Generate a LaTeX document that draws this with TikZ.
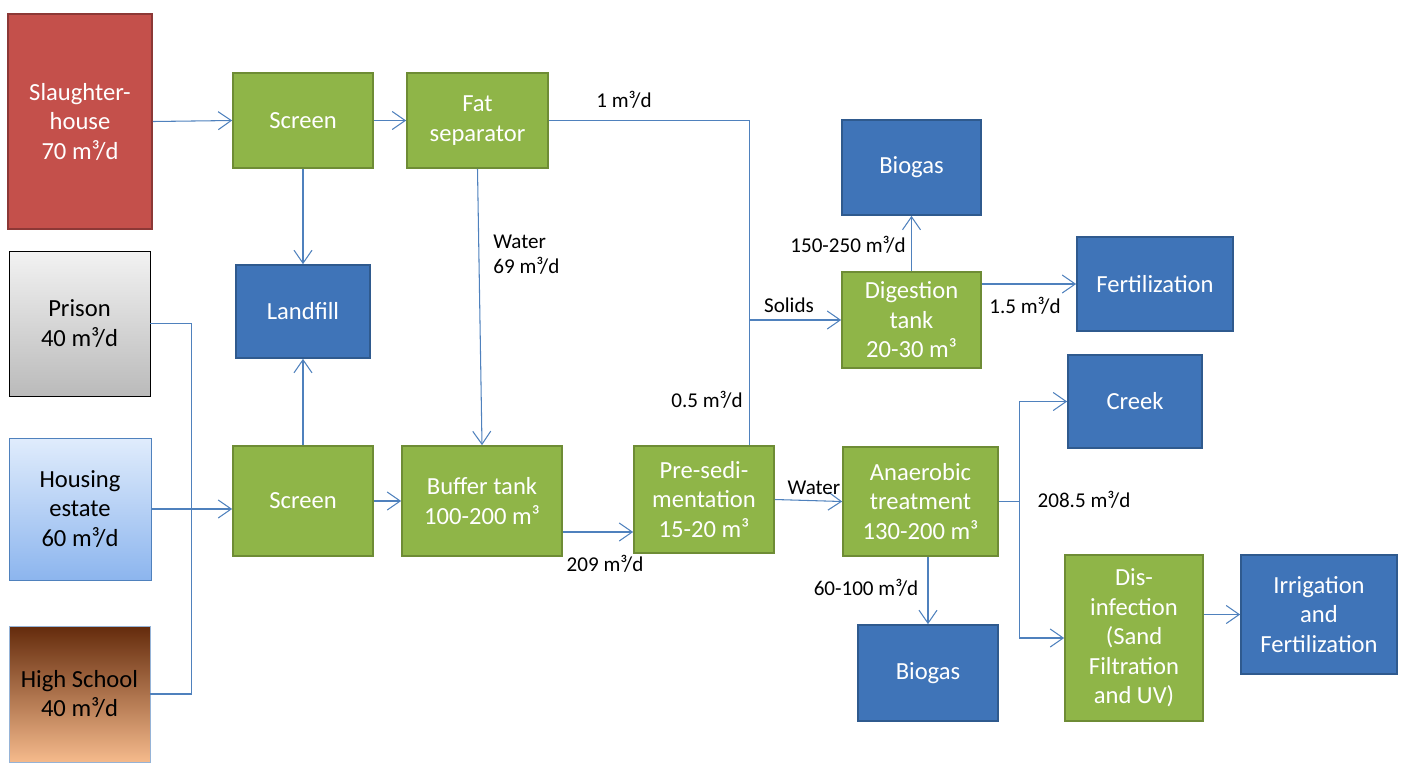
\documentclass[tikz,border=0pt]{standalone}
\usepackage{fontspec}
\setmainfont{Carlito}
\usepackage{tikz}
\usetikzlibrary{arrows.meta,calc}

\definecolor{boxred}{HTML}{C4504B}
\definecolor{boxredline}{HTML}{8C3836}
\definecolor{boxgreen}{HTML}{8FB548}
\definecolor{boxgreenline}{HTML}{6E8C35}
\definecolor{boxblue}{HTML}{3F74B8}
\definecolor{boxblueline}{HTML}{2F5A8E}
\definecolor{flowblue}{HTML}{4F81BD}
\definecolor{housetop}{HTML}{E0ECFC}
\definecolor{housebottom}{HTML}{8CB5EE}
\definecolor{schooltop}{HTML}{642B0C}
\definecolor{schoolmid}{HTML}{C0703C}
\definecolor{schoolbottom}{HTML}{F5BA8C}

\begin{document}
\begin{tikzpicture}[x=0.02cm, y=-0.02cm,
    box/.style={draw, line width=1pt, inner sep=0pt, align=center,
        font=\fontsize{14}{16.8}\selectfont},
    redbox/.style={box, fill=boxred, draw=boxredline, text=white},
    greenbox/.style={box, fill=boxgreen, draw=boxgreenline, text=white},
    bluebox/.style={box, fill=boxblue, draw=boxblueline, text=white},
    flow/.style={draw=flowblue, line width=0.6pt},
    arr/.style={flow, -{Straight Barb[length=2.6mm,width=3.6mm]}},
    lbl/.style={font=\fontsize{12}{14.2}\selectfont, inner sep=0pt, align=left}]

    \useasboundingbox (0,0) rectangle (1403,762);

    % Sources
    \node[redbox, minimum width=2.88cm, minimum height=4.30cm] (slaughter) at (80,121.5) {Slaughter-\\house\\70 m³/d};
    \node[box, draw=black, line width=0.5pt, top color=white!95!black, bottom color=black!27, minimum width=2.82cm, minimum height=2.90cm] (prison) at (79.5,323.5) {Prison\\40 m³/d};
    \node[box, draw=flowblue, line width=0.5pt, top color=housetop, bottom color=housebottom, minimum width=2.84cm, minimum height=2.84cm] (housing) at (80,509) {Housing\\estate\\60 m³/d};
    \node[box, draw=flowblue!60, line width=0.5pt, top color=schooltop, middle color=schoolmid, bottom color=schoolbottom, minimum width=2.82cm, minimum height=2.72cm] (school) at (79.5,694) {High School\\40 m³/d};

    % Treatment
    \node[greenbox, minimum width=2.80cm, minimum height=1.90cm] (screen1) at (303,120.5) {Screen};
    \node[greenbox, minimum width=2.82cm, minimum height=1.90cm] (fatsep) at (477.5,120.5) {Fat\\separator};
    \node[bluebox, minimum width=2.68cm, minimum height=1.86cm] (landfill) at (303,311.5) {Landfill};
    \node[greenbox, minimum width=2.80cm, minimum height=2.20cm] (screen2) at (303,501) {Screen};
    \node[greenbox, minimum width=3.20cm, minimum height=2.20cm] (buffer) at (482,501) {Buffer tank\\100-200 m³};
    \node[greenbox, minimum width=2.80cm, minimum height=2.14cm] (presed) at (704,499.5) {Pre-sedi-\\mentation\\15-20 m³};
    \node[greenbox, minimum width=3.10cm, minimum height=2.18cm] (anaer) at (920.5,501.5) {Anaerobic\\treatment\\130-200 m³};
    \node[greenbox, minimum width=2.78cm, minimum height=1.92cm] (digest) at (911.5,320) {Digestion\\tank\\20-30 m³};
    \node[greenbox, minimum width=2.76cm, minimum height=3.32cm] (disinf) at (1134,638) {Dis-\\infection\\(Sand\\Filtration\\and UV)};

    % Outputs
    \node[bluebox, minimum width=2.78cm, minimum height=1.90cm] (biogas1) at (911.5,167.5) {Biogas};
    \node[bluebox, minimum width=2.80cm, minimum height=1.92cm] (biogas2) at (928,673) {Biogas};
    \node[bluebox, minimum width=3.12cm, minimum height=1.88cm] (fert) at (1155,284) {Fertilization};
    \node[bluebox, minimum width=2.68cm, minimum height=1.86cm] (creek) at (1135,401.5) {Creek};
    \node[bluebox, minimum width=3.12cm, minimum height=2.38cm] (irrig) at (1319,614.5) {Irrigation\\and\\Fertilization};

    % Connections
    \draw[arr] (slaughter.east) -- (screen1.west);
    \draw[arr] (screen1.east) -- (fatsep.west);
    \draw[arr] (screen1.south) -- (landfill.north);
    \draw[arr] (screen2.north) -- (landfill.south);
    \draw[arr] (fatsep.south) -- (buffer.north);
    \draw[flow] (prison.east) -- ++(41,0) coordinate (bus) |- (school.east);
    \draw[arr] (housing.east) -- (housing.east -| screen2.west);
    \draw[arr] (screen2.east) -- (screen2.east -| buffer.west);
    \coordinate (b209) at ($(buffer.east)+(0,31)$);
    \draw[arr] (b209) -- (b209 -| presed.west);
    \draw[arr] (presed.east) -- (anaer.west);
    \coordinate (jtop) at ($(presed.north east)+(-25,0)$);
    \draw[flow] (fatsep.east) -| (jtop);
    \coordinate (jsol) at (jtop |- digest.west);
    \draw[arr] (jsol) -- (digest.west);
    \draw[arr] (digest.north) -- (biogas1.south);
    \draw[arr] (digest.east |- fert.west) -- (fert.west);
    \draw[arr] (biogas2.north |- anaer.south) -- (biogas2.north);
    \draw[flow] (anaer.east) -- ++(21,0) coordinate (jw);
    \draw[arr] (jw) |- (creek.west);
    \draw[arr] (jw) |- (disinf.west);
    \draw[arr] (disinf.east |- irrig.west) -- (irrig.west);

    % Flow labels
    \node[lbl] (lfat) at (624,100) {1 m³/d};
    \node[lbl, anchor=west] (lwater1) at (493,255) {Water\\69 m³/d};
    \node[lbl] (lsolids) at (789,305) {Solids};
    \node[lbl] (lhalf) at (707,400) {0.5 m³/d};
    \node[lbl] (lgas1) at (848,245) {150-250 m³/d};
    \node[lbl] (lfert) at (1025,306) {1.5 m³/d};
    \node[lbl] (lwater2) at (814,488) {Water};
    \node[lbl] (l209) at (605,564) {209 m³/d};
    \node[lbl] (lout) at (1084,500) {208.5 m³/d};
    \node[lbl] (lgas2) at (866,588) {60-100 m³/d};

\end{tikzpicture}
\end{document}
